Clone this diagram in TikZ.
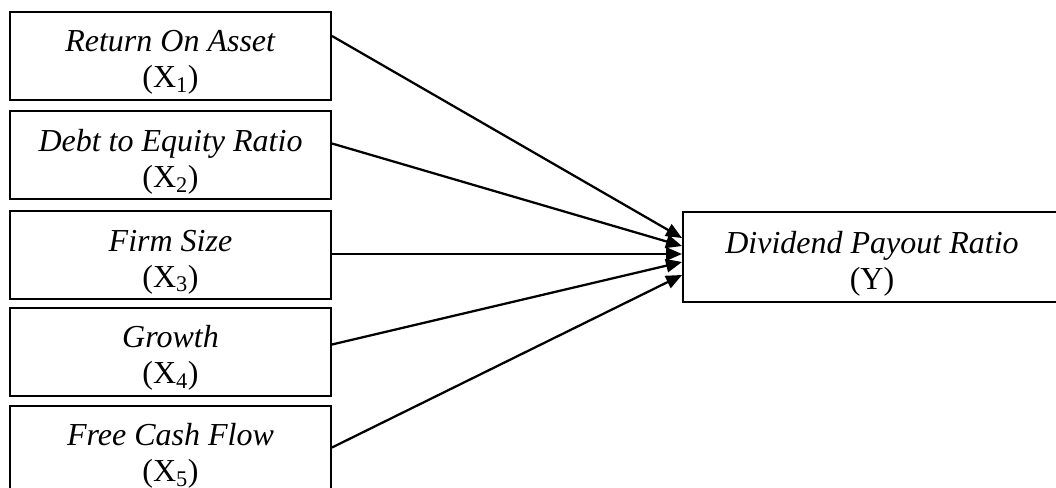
\documentclass[tikz,border=0pt]{standalone}
\usepackage{fontspec}
\setmainfont{Liberation Serif}
\usetikzlibrary{arrows.meta,calc}

% two-line label: italic name over an upright symbol; the struts fix the
% height of the text block so every box places its text the same way
\newcommand{\varlabel}[2]{\rule{0pt}{27pt}\textit{#1}\\(#2)\rule[-6pt]{0pt}{0pt}}

\begin{document}
\begin{tikzpicture}[x=0.75pt,y=-0.75pt,
  varbox/.style={draw,line width=1.5pt,rectangle,inner sep=0pt,
    minimum width=240.75pt,minimum height=66pt,align=center,
    font={\fontsize{24}{27}\selectfont}},
  depbox/.style={varbox,minimum width=283.5pt,minimum height=67.5pt},
  link/.style={line width=1.7pt,-{Triangle[length=12pt,width=10pt]}}]
  \useasboundingbox (0,0) rectangle (1056,488);

  % independent variables
  \node[varbox] (b1) at (170.5,56)    {\varlabel{Return On Asset}{X\textsubscript{1}}};
  \node[varbox] (b2) at (170.5,155.5) {\varlabel{Debt to Equity Ratio}{X\textsubscript{2}}};
  \node[varbox] (b3) at (170.5,255)   {\varlabel{Firm Size}{X\textsubscript{3}}};
  \node[varbox] (b4) at (170.5,351.5) {\varlabel{Growth}{X\textsubscript{4}}};
  \node[varbox] (b5) at (170.5,449.5) {\varlabel{Free Cash Flow}{X\textsubscript{5}}};

  % dependent variable
  \node[depbox] (y) at (872,257) {\varlabel{Dividend Payout Ratio}{Y}};

  % paths of influence
  \draw[link] ($(b1.north east)+(0,25)$) -- ($(y.north west)+(0,27)$);
  \draw[link] ($(b2.north east)+(0,33)$) -- ($(y.north west)+(0,35)$);
  \draw[link] ($(b3.east)+(0,-1)$) -- ($(y.north west)+(0,43)$);
  \draw[link] ($(b4.north east)+(0,38)$) -- ($(y.north west)+(0,51)$);
  \draw[link] ($(b5.north east)+(0,43)$) -- ($(y.north west)+(0,64)$);
\end{tikzpicture}
\end{document}
